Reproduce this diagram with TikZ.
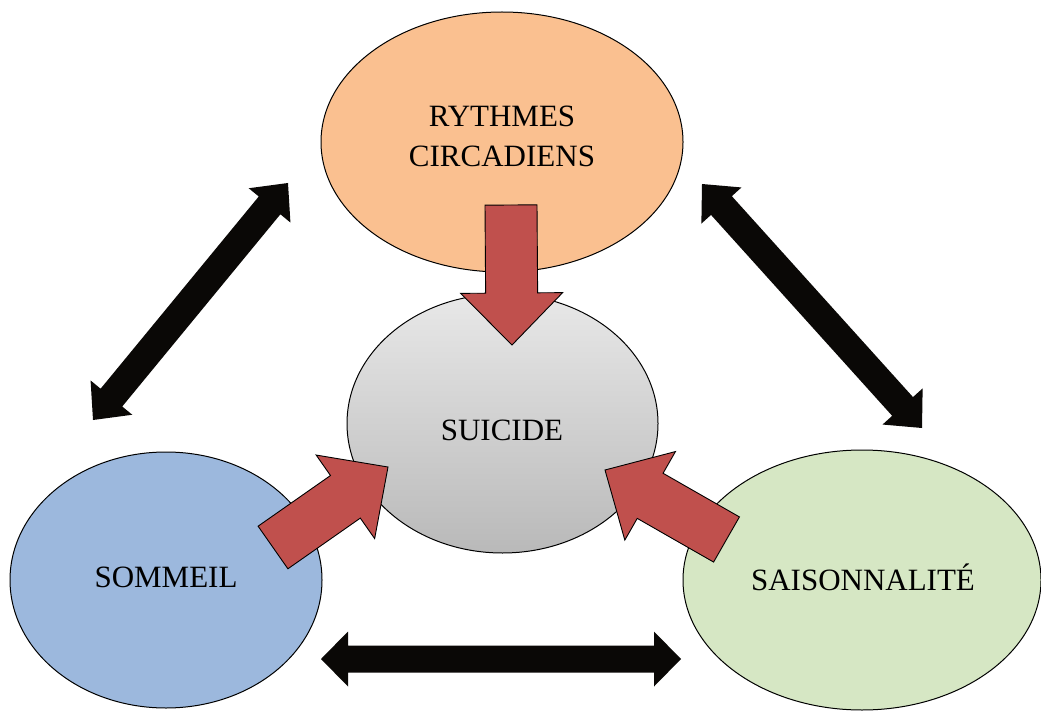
\documentclass[tikz,border=0pt]{standalone}
\usepackage{fontspec}
\setmainfont{Liberation Serif}
\usetikzlibrary{shapes.geometric,calc}
\definecolor{orangefill}{HTML}{FAC090}
\definecolor{bluefill}{HTML}{9CB8DD}
\definecolor{greenfill}{HTML}{D6E7C4}
\definecolor{grayTop}{HTML}{E8E8E8}
\definecolor{grayBot}{HTML}{B9B9B9}
\definecolor{redfill}{HTML}{C0504D}
\definecolor{blackfill}{HTML}{0A0806}
\tikzset{
  bubble/.style={ellipse, draw=black, line width=1pt, inner sep=0pt},
  label text/.style={font=\fontsize{31}{40}\selectfont, align=center, inner sep=0pt},
  redarrow/.style={fill=redfill, draw=black, line width=0.9pt, line join=miter},
  blackarrow/.style={fill=blackfill, draw=none}
}
% one-way block arrow: style, tail, tip, shaft half-width, head half-width, head length
\newcommand\onewayblock[6]{%
  \coordinate (hbase) at ($(#3)!#6!(#2)$);
  \draw[#1] ($(#2)!#4!90:(#3)$) -- ($(hbase)!#4!90:(#3)$) -- ($(hbase)!#5!90:(#3)$)
    -- (#3) -- ($(hbase)!#5!-90:(#3)$) -- ($(hbase)!#4!-90:(#3)$) -- ($(#2)!#4!-90:(#3)$) -- cycle;
}
% two-way block arrow: style, end A, end B, shaft half-width, head half-width, head length
\newcommand\twowayblock[6]{%
  \coordinate (hA) at ($(#2)!#6!(#3)$);
  \coordinate (hB) at ($(#3)!#6!(#2)$);
  \draw[#1] (#2) -- ($(hA)!#5!90:(#3)$) -- ($(hA)!#4!90:(#3)$) -- ($(hB)!#4!-90:(#2)$)
    -- ($(hB)!#5!-90:(#2)$) -- (#3) -- ($(hB)!#5!90:(#2)$) -- ($(hB)!#4!90:(#2)$)
    -- ($(hA)!#4!-90:(#3)$) -- ($(hA)!#5!-90:(#3)$) -- cycle;
}
\begin{document}
\begin{tikzpicture}[x=1pt,y=-1pt]
\useasboundingbox (0,0) rectangle (1041,711);
% ellipses
\node[bubble, fill=orangefill, minimum width=362pt, minimum height=260pt] (rythmes) at (502,142) {};
\node[bubble, top color=grayTop, bottom color=grayBot, minimum width=311pt, minimum height=259pt] (suicide) at (502.5,423.5) {};
\node[bubble, fill=bluefill, minimum width=312pt, minimum height=256pt] (sommeil) at (166,580) {};
\node[bubble, fill=greenfill, minimum width=358pt, minimum height=260pt] (saison) at (862,580) {};
% texts
\node[label text] (trythmes) at (502,136) {RYTHMES\\CIRCADIENS};
\node[label text] (tsuicide) at (502,430) {SUICIDE};
\node[label text] (tsommeil) at (166,577) {SOMMEIL};
\node[label text] (tsaison) at (863,577) {SAISONNALITÉ};
% red arrow ends
\coordinate (rT) at (511,205);  \coordinate (rP) at (512,345);
\coordinate (lT) at (273,547.5); \coordinate (lP) at (388,467);
\coordinate (sT) at (726.5,539.5); \coordinate (sP) at (605,470);
\onewayblock{redarrow}{rT}{rP}{26pt}{51pt}{52pt}
\onewayblock{redarrow}{lT}{lP}{26pt}{51pt}{52pt}
\onewayblock{redarrow}{sT}{sP}{26pt}{51pt}{52pt}
% black double arrows
\coordinate (bA) at (321,659); \coordinate (bB) at (681,659);
\coordinate (dA) at (93,420);  \coordinate (dB) at (288,183);
\coordinate (eA) at (702,184); \coordinate (eB) at (922,428);
\twowayblock{blackarrow}{bA}{bB}{13.5pt}{27.5pt}{27pt}
\twowayblock{blackarrow}{dA}{dB}{14pt}{27pt}{29pt}
\twowayblock{blackarrow}{eA}{eB}{14pt}{27pt}{29pt}
\end{tikzpicture}
\end{document}
